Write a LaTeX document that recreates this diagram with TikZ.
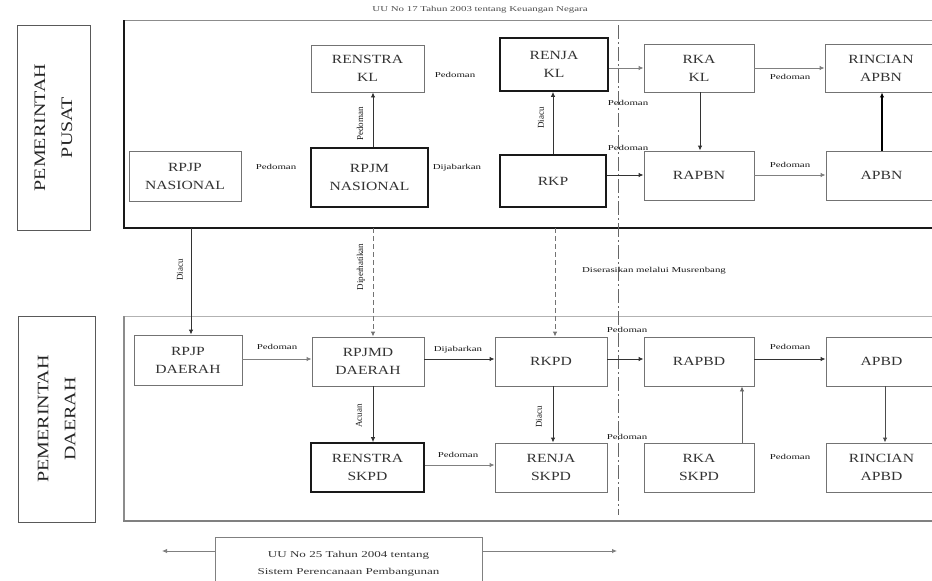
\documentclass[tikz,border=0pt]{standalone}
\usepackage{fontspec}
\setmainfont{Liberation Serif}
\newfontfamily\boxf[FakeStretch=1.25]{Liberation Serif}
\newfontfamily\lblf[FakeStretch=1.45]{Liberation Serif}
\newfontfamily\sidef[FakeStretch=1.25]{Liberation Serif}
\usetikzlibrary{arrows.meta}
\tikzset{
  bx/.style={draw=black!55, line width=0.9pt, align=center, inner sep=0pt,
    font=\boxf\fontsize{12.5}{18}\selectfont, text=black!80},
  sbx/.style={bx, draw=black!90, line width=1.6pt},
  sidebox/.style={draw=black!65, line width=1pt, align=center, inner sep=0pt, rotate=90,
    font=\sidef\fontsize{16}{27}\selectfont, text=black!85},
  lbl/.style={font=\lblf\fontsize{7.5}{9}\selectfont, text=black!90, inner sep=0pt},
  vlbl/.style={font=\fontsize{9}{10}\selectfont, text=black!90, inner sep=0pt, rotate=90},
  arr/.style={-{Latex[length=5pt,width=4.5pt]}, line width=0.9pt, draw=black!80},
  garr/.style={arr, draw=black!50},
  darr/.style={arr, draw=black!55, dash pattern=on 5pt off 3pt},
}
\begin{document}
\begin{tikzpicture}[x=1pt,y=-1pt]
\clip (0,0) rectangle (932,581);
\fill[white] (0,0) rectangle (932,581);

% title
\node[lbl, font=\lblf\fontsize{7.5}{9}\selectfont, text=black!70, anchor=base] (title) at (480,11) {UU No 17 Tahun 2003 tentang Keuangan Negara};

% side labels
\node[sidebox, minimum width=205pt, minimum height=73pt] (pusat) at (53.5,127.5) {PEMERINTAH\\PUSAT};
\node[sidebox, minimum width=206pt, minimum height=77pt] (daerah) at (56.5,419) {PEMERINTAH\\DAERAH};

% frames
\draw[black!45, line width=1pt] (124,20) -- (945,20);
\draw[black!90, line width=1.2pt] (124,20) -- (124,228);
\draw[black!90, line width=2pt] (123,228) -- (945,228);
\draw[black!30, line width=1pt] (124,316) -- (945,316);
\draw[black!45, line width=1.2pt] (124,316) -- (124,521);
\draw[black!50, line width=2pt] (123,521) -- (945,521);

% divider
\draw[black!60, line width=0.8pt, dash pattern=on 14pt off 3pt on 2pt off 3pt] (618,25) -- (618,515);

% top boxes
\node[bx, minimum width=113pt, minimum height=47pt] (renstrakl) at (367.5,68.5) {RENSTRA\\KL};
\node[sbx, minimum width=108pt, minimum height=53pt] (renjakl) at (554,64.5) {RENJA\\KL};
\node[bx, minimum width=110pt, minimum height=48pt] (rkakl) at (699,68) {RKA\\KL};
\node[bx, minimum width=112pt, minimum height=48pt] (rincianapbn) at (881,68) {RINCIAN\\APBN};
\node[bx, minimum width=112pt, minimum height=50pt] (rpjpnas) at (185,176) {RPJP\\NASIONAL};
\node[sbx, minimum width=117pt, minimum height=59pt] (rpjmnas) at (369.5,177.5) {RPJM\\NASIONAL};
\node[sbx, minimum width=106pt, minimum height=52pt] (rkp) at (553,181) {RKP};
\node[bx, minimum width=110pt, minimum height=49pt] (rapbn) at (699,175.5) {RAPBN};
\node[bx, minimum width=111pt, minimum height=49pt] (apbn) at (881.5,175.5) {APBN};

% bottom boxes
\node[bx, minimum width=108pt, minimum height=50pt] (rpjpd) at (188,360) {RPJP\\DAERAH};
\node[bx, minimum width=112pt, minimum height=49pt] (rpjmd) at (368,361.5) {RPJMD\\DAERAH};
\node[bx, minimum width=112pt, minimum height=49pt] (rkpd) at (551,361.5) {RKPD};
\node[bx, minimum width=110pt, minimum height=49pt] (rapbd) at (699,361.5) {RAPBD};
\node[bx, minimum width=111pt, minimum height=49pt] (apbd) at (881.5,361.5) {APBD};
\node[sbx, minimum width=113pt, minimum height=49pt] (renstraskpd) at (367.5,467.5) {RENSTRA\\SKPD};
\node[bx, minimum width=112pt, minimum height=49pt] (renjaskpd) at (551,467.5) {RENJA\\SKPD};
\node[bx, minimum width=110pt, minimum height=49pt] (rkaskpd) at (699,467.5) {RKA\\SKPD};
\node[bx, minimum width=111pt, minimum height=49pt] (rincianapbd) at (881.5,467.5) {RINCIAN\\APBD};

% UU box
\node[bx, draw=black!50, minimum width=267pt, minimum height=52pt, font=\lblf\fontsize{9}{17}\selectfont, anchor=north] (uu) at (348.5,537) {UU No 25 Tahun 2004 tentang\\Sistem Perencanaan Pembangunan};

% helper coordinates
\coordinate (c373) at (373,0);
\coordinate (c553) at (553,0);
\coordinate (c700) at (700,0);
\coordinate (c882) at (882,0);
\coordinate (c742) at (742,0);
\coordinate (c885) at (885,0);
\coordinate (r68) at (0,68);
\coordinate (r175) at (0,175);
\coordinate (r359) at (0,359);
\coordinate (r465) at (0,465);
\coordinate (fb191) at (191,228);
\coordinate (fb373) at (373,228);
\coordinate (fb555) at (555,228);
\coordinate (uuL) at (162,551);
\coordinate (uuR) at (617,551);

% top connectors
\draw[arr] (rpjmnas.north -| c373) -- (renstrakl.south -| c373);
\draw[arr] (rkp.north -| c553) -- (renjakl.south -| c553);
\draw[garr] (renjakl.east |- r68) -- (rkakl.west |- r68);
\draw[arr] (rkp.east |- r175) -- (rapbn.west |- r175);
\draw[arr] (rkakl.south -| c700) -- (rapbn.north -| c700);
\draw[garr] (rkakl.east |- r68) -- (rincianapbn.west |- r68);
\draw[garr] (rapbn.east |- r175) -- (apbn.west |- r175);
\draw[arr, line width=1.3pt, draw=black] (apbn.north -| c882) -- (rincianapbn.south -| c882);

% inter-level connectors
\draw[arr] (fb191) -- (rpjpd.north -| fb191);
\draw[darr] (fb373) -- (rpjmd.north -| fb373);
\draw[darr] (fb555) -- (rkpd.north -| fb555);

% bottom connectors
\draw[garr] (rpjpd.east |- r359) -- (rpjmd.west |- r359);
\draw[arr] (rpjmd.east |- r359) -- (rkpd.west |- r359);
\draw[arr] (rkpd.east |- r359) -- (rapbd.west |- r359);
\draw[arr] (rapbd.east |- r359) -- (apbd.west |- r359);
\draw[arr] (rpjmd.south -| c373) -- (renstraskpd.north -| c373);
\draw[arr] (rkpd.south -| c553) -- (renjaskpd.north -| c553);
\draw[garr] (renstraskpd.east |- r465) -- (renjaskpd.west |- r465);
\draw[arr, draw=black!60] (rkaskpd.north -| c742) -- (rapbd.south -| c742);
\draw[arr, draw=black!70] (apbd.south -| c885) -- (rincianapbd.north -| c885);

% UU arrows
\draw[garr] (uu.west |- uuL) -- (uuL);
\draw[garr] (uu.east |- uuR) -- (uuR);

% labels
\node[lbl] (l1) at (276,167) {Pedoman};
\node[lbl] (l2) at (457,168) {Dijabarkan};
\node[lbl] (l3) at (455,75) {Pedoman};
\node[vlbl] (l4) at (360,124) {Pedoman};
\node[vlbl] (l5) at (541,118) {Diacu};
\node[lbl] (l6) at (628,103) {Pedoman};
\node[lbl] (l7) at (628,148) {Pedoman};
\node[lbl] (l8) at (790,77) {Pedoman};
\node[lbl] (l9) at (790,165) {Pedoman};
\node[vlbl] (l10) at (180,270) {Diacu};
\node[vlbl] (l11) at (361,267) {Diperhatikan};
\node[lbl] (l12) at (654,271) {Diserasikan melalui Musrenbang};
\node[lbl] (l13) at (277,347) {Pedoman};
\node[lbl] (l14) at (458,350) {Dijabarkan};
\node[lbl] (l15) at (627,330) {Pedoman};
\node[lbl] (l16) at (790,347) {Pedoman};
\node[vlbl] (l17) at (359,416) {Acuan};
\node[vlbl] (l18) at (539,417) {Diacu};
\node[lbl] (l19) at (458,455) {Pedoman};
\node[lbl] (l20) at (627,437) {Pedoman};
\node[lbl] (l21) at (790,457) {Pedoman};
\end{tikzpicture}
\end{document}
